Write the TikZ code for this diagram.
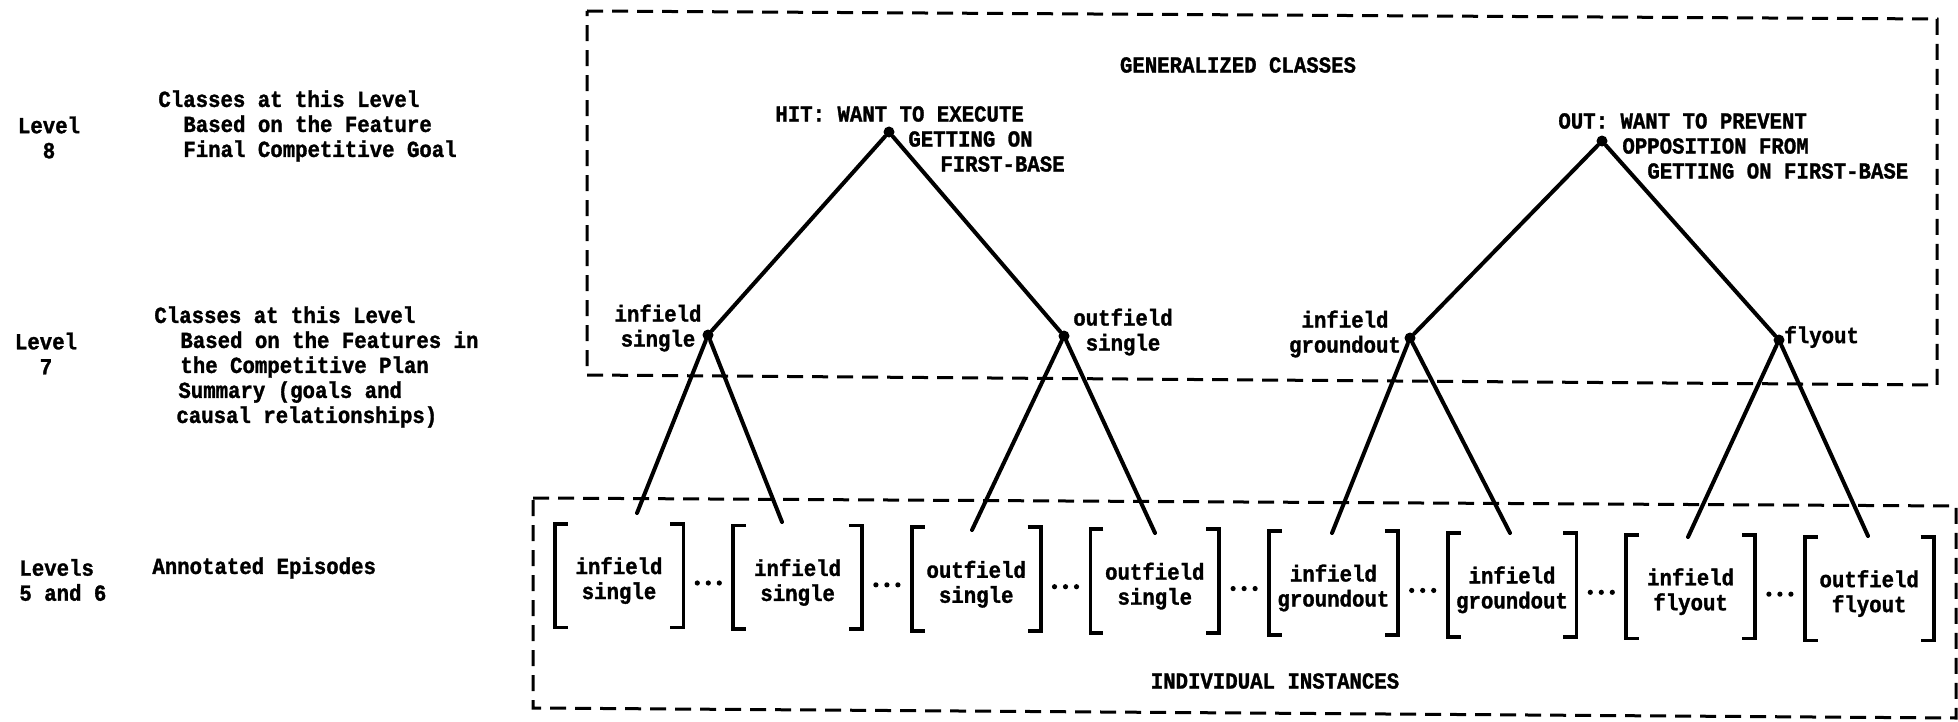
\documentclass[tikz,border=0pt]{standalone}
\usepackage{fontspec}
\newfontfamily\tw[FakeStretch=0.9,FakeBold=1.3]{Liberation Mono}
\newcommand\lab{\tw\bfseries\fontsize{11.5pt}{12.5pt}\selectfont}
\tikzset{
  txt/.style={font=\lab, inner sep=0pt},
  dot/.style={circle, fill=black, inner sep=0pt, minimum size=5.5pt},
  branch/.style={line width=2pt, line cap=round},
  brk/.style={line width=1.9pt},
  dbox/.style={line width=1.5pt, dash pattern=on 8pt off 4.5pt},
  frame/.style={inner sep=0pt, minimum width=64pt, minimum height=51.5pt},
  inst/.style={txt, align=center}
}
\begin{document}
\begin{tikzpicture}[x=0.5pt,y=-0.5pt]
\useasboundingbox[fill=white] (0,0) rectangle (1958,722);

% dashed boxes
\draw[dbox] (587,11) -- (1937,19) -- (1937,385) -- (587,375) -- cycle;
\draw[dbox] (533,498) -- (1956,506) -- (1956,718) -- (533,708) -- cycle;

% left column
\node[txt, align=center] (lv8) at (49,137.5) {Level\\8};
\node[txt, align=center] (lv7) at (46,353.5) {Level\\7};
\node[txt, align=left, anchor=west] (lv56) at (19,580) {Levels\\5 and 6};
\node[txt, align=left, anchor=west] (d8) at (158,126) {Classes at this Level\\\hspace*{12.5pt}Based on the Feature\\\hspace*{12.5pt}Final Competitive Goal};
\node[txt, align=left, anchor=west] (d7) at (154,367) {Classes at this Level\\\hspace*{13pt}Based on the Features in\\\hspace*{13pt}the Competitive Plan\\\hspace*{12pt}Summary (goals and\\\hspace*{11pt}causal relationships)};
\node[txt, anchor=west] (d56) at (152,568) {Annotated Episodes};

% titles
\node[txt] (gen) at (1238,65) {GENERALIZED CLASSES};
\node[txt] (ind) at (1275,681) {INDIVIDUAL INSTANCES};

% tree nodes
\node[dot] (hit) at (889,132) {};
\node[dot] (out) at (1602,141) {};
\node[dot] (is) at (708,335) {};
\node[dot] (os) at (1064,336) {};
\node[dot] (ig) at (1410,338) {};
\node[dot] (fo) at (1779,340) {};

\node[txt, align=left, anchor=west] (hitl) at (775,139) {HIT: WANT TO EXECUTE\\\hspace*{66.5pt}GETTING ON\\\hspace*{82.5pt}FIRST-BASE};
\node[txt, align=left, anchor=west] (outl) at (1558,146) {OUT: WANT TO PREVENT\\\hspace*{32pt}OPPOSITION FROM\\\hspace*{44.5pt}GETTING ON FIRST-BASE};

\node[txt, align=center] (lis) at (658,328) {infield\\single};
\node[txt, align=center] (los) at (1123,332) {outfield\\single};
\node[txt, align=center] (lig) at (1345,334) {infield\\groundout};
\node[txt, anchor=west] (lfo) at (1784,337) {flyout};

% branch ends
\coordinate (e1) at (637,513);
\coordinate (e2) at (782,522);
\coordinate (e3) at (972,530);
\coordinate (e4) at (1155,533);
\coordinate (e5) at (1332,533);
\coordinate (e6) at (1510,533);
\coordinate (e7) at (1688,537);
\coordinate (e8) at (1868,536);

\draw[branch] (hit) -- (is);
\draw[branch] (hit) -- (os);
\draw[branch] (out) -- (ig);
\draw[branch] (out) -- (fo);
\draw[branch] (is) -- (e1);
\draw[branch] (is) -- (e2);
\draw[branch] (os) -- (e3);
\draw[branch] (os) -- (e4);
\draw[branch] (ig) -- (e5);
\draw[branch] (ig) -- (e6);
\draw[branch] (fo) -- (e7);
\draw[branch] (fo) -- (e8);

% instances
\foreach \t [count=\i from 0] in {{infield\\single},{infield\\single},{outfield\\single},{outfield\\single},{infield\\groundout},{infield\\groundout},{infield\\flyout},{outfield\\flyout}} {
  \pgfmathsetmacro\bx{555+178.6*\i+64}
  \pgfmathsetmacro\by{524+1.86*\i+51.5}
  \node[frame] (f\i) at (\bx,\by) {};
  \node[inst] (b\i) at (\bx,\by+5) {\t};
  \draw[brk] ([xshift=6.5pt]f\i.north west) -- (f\i.north west) -- (f\i.south west) -- ++(6.5pt,0);
  \draw[brk] ([xshift=-6.5pt]f\i.north east) -- (f\i.north east) -- (f\i.south east) -- ++(-6.5pt,0);
}
\foreach \i in {0,...,6} {
  \pgfmathsetmacro\dx{555+178.6*\i+153.3}
  \pgfmathsetmacro\dy{524+1.86*\i+59}
  \foreach \k in {-11,0,11} \fill (\dx+\k,\dy) circle (1.3pt);
}
\end{tikzpicture}
\end{document}
